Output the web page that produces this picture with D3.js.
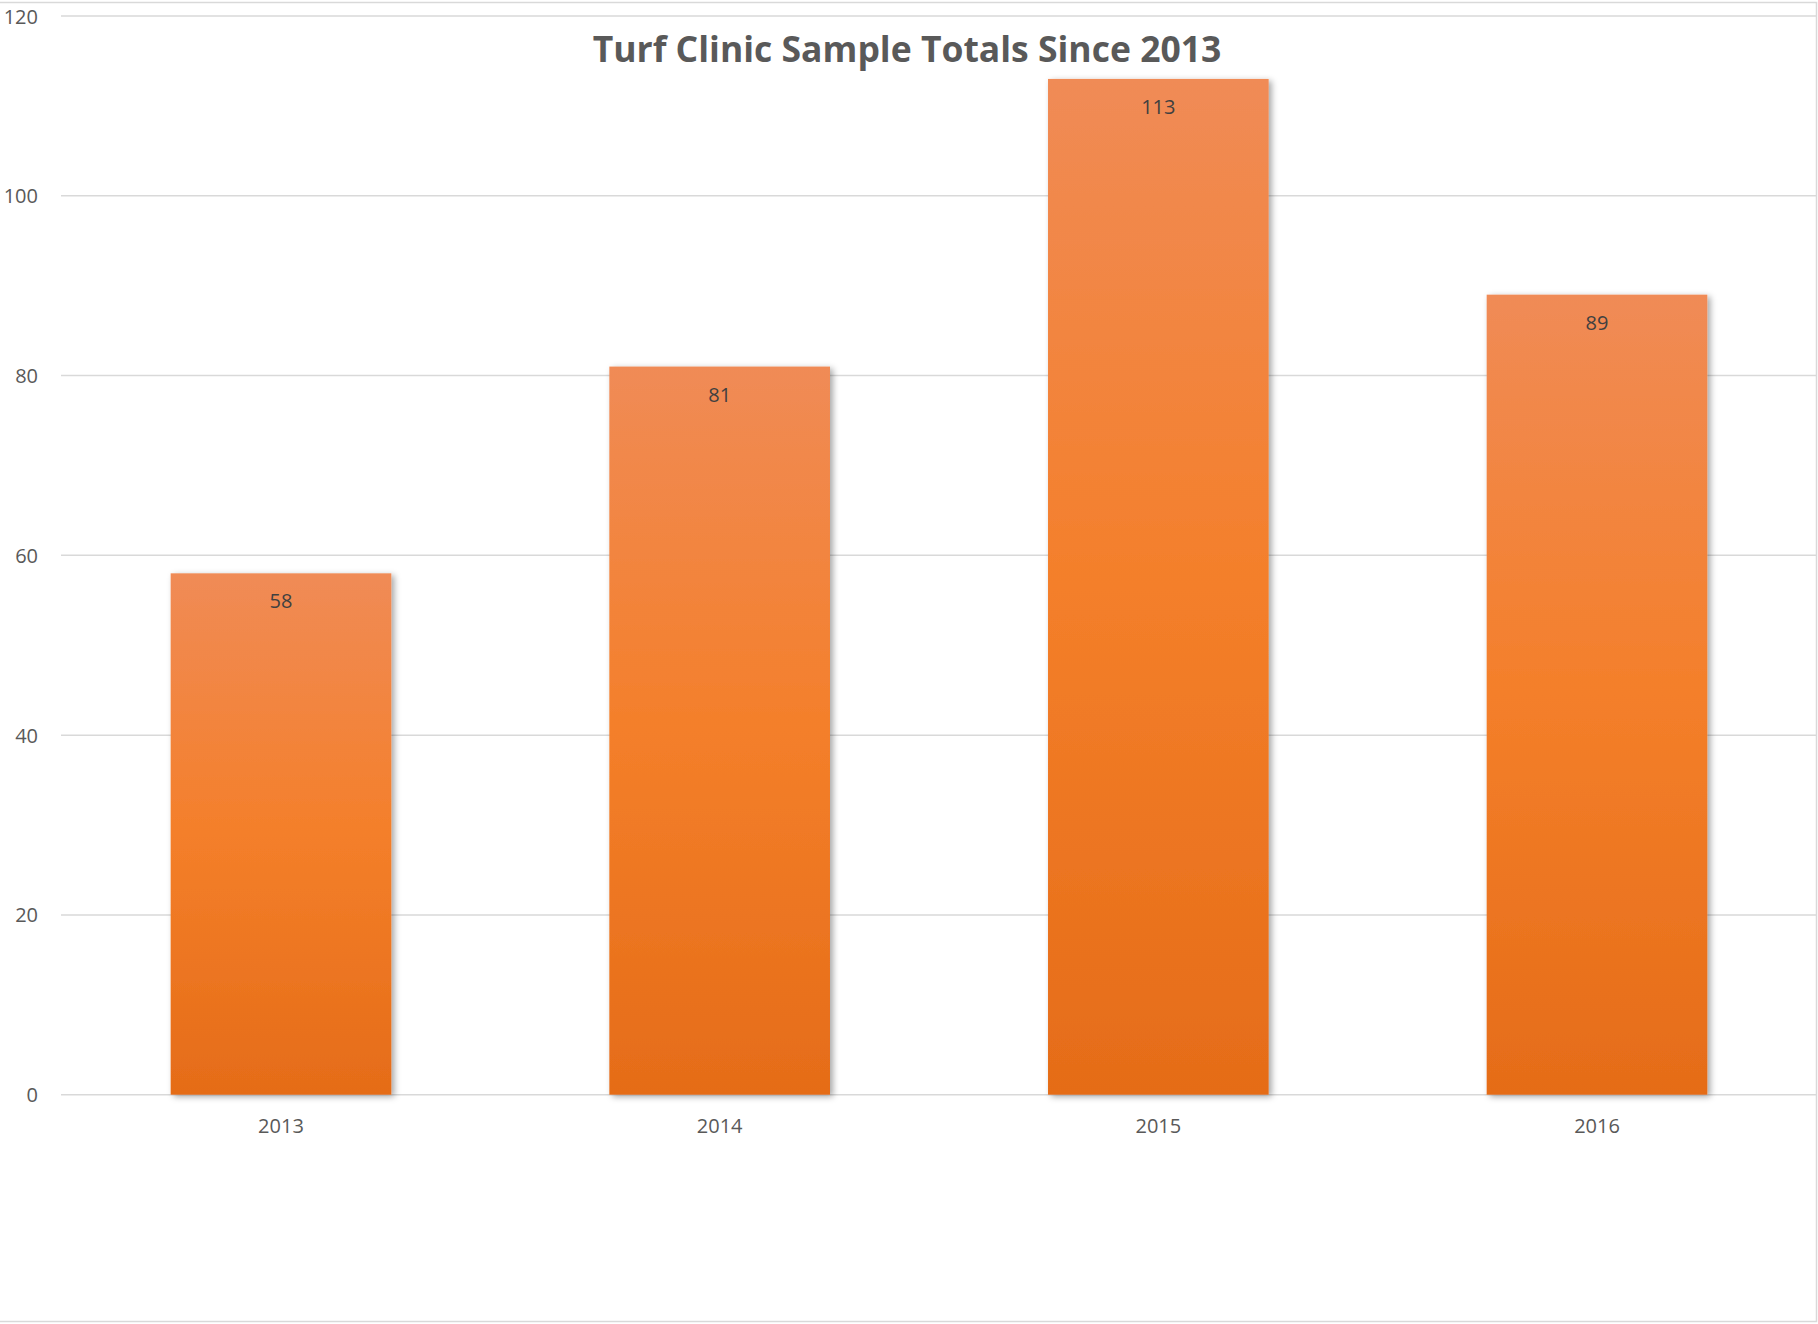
<!DOCTYPE html>
<html><head><meta charset="utf-8">
<script src="https://cdn.jsdelivr.net/npm/d3@7"></script>
<style>html,body{margin:0;padding:0;background:#fff;}svg{display:block;}</style>
</head><body>
<script>
const categories = ["2013", "2014", "2015", "2016"];
const sampleTotals = [58, 81, 113, 89];
const yTicks = [0, 20, 40, 60, 80, 100, 120];
const chartTitle = "Turf Clinic Sample Totals Since 2013";

const W = 1818, H = 1324;
const svg = d3.select("body").append("svg").attr("width", W).attr("height", H);

const defs = svg.append("defs");
const grad = defs.append("linearGradient").attr("id", "barGrad")
  .attr("x1", 0).attr("y1", 0).attr("x2", 0).attr("y2", 1);
grad.append("stop").attr("offset", "0%").attr("stop-color", "#F08B56");
grad.append("stop").attr("offset", "50%").attr("stop-color", "#F47F2A");
grad.append("stop").attr("offset", "100%").attr("stop-color", "#E56C18");
const f = defs.append("filter").attr("id", "shadow").attr("x", "-10%").attr("y", "-10%").attr("width", "125%").attr("height", "125%");
f.append("feDropShadow").attr("dx", 3).attr("dy", 2).attr("stdDeviation", 3).attr("flood-color", "#000").attr("flood-opacity", 0.35);

// outer frame (top, right, bottom)
svg.append("path").attr("d", "M0,2.5H1816.5V1321.5H0")
  .attr("fill", "none").attr("stroke", "#d9d9d9").attr("stroke-width", 1.5);

const x = d3.scaleBand().domain(categories).range([61, 1817]).paddingInner(0.497).paddingOuter(0.25);
const y = d3.scaleLinear().domain([0, 120]).range([1094.7, 16]);

// gridlines
const grid = svg.append("g").attr("class", "grid");
grid.selectAll("line").data(yTicks).join("line")
  .attr("x1", 61).attr("x2", 1817)
  .attr("y1", d => y(d)).attr("y2", d => y(d))
  .attr("stroke", "#d9d9d9").attr("stroke-width", 1.5);

// y axis labels
const yAxis = d3.axisLeft(y).tickValues(yTicks).tickSize(0).tickPadding(0);
const gy = svg.append("g").attr("transform", "translate(38,0)").call(yAxis);
gy.select(".domain").remove();
gy.selectAll("text").attr("font-family", "Open Sans, sans-serif").attr("font-size", 20)
  .attr("fill", "#595959").attr("dy", "0.35em");

// bars
svg.append("g").selectAll("rect").data(categories).join("rect")
  .attr("x", d => x(d)).attr("width", x.bandwidth())
  .attr("y", (d, i) => y(sampleTotals[i]))
  .attr("height", (d, i) => y(0) - y(sampleTotals[i]))
  .attr("fill", "url(#barGrad)").attr("filter", "url(#shadow)");

// data labels
svg.append("g").selectAll("text").data(categories).join("text")
  .attr("x", d => x(d) + x.bandwidth() / 2)
  .attr("y", (d, i) => y(sampleTotals[i]) + 28)
  .attr("dy", "0.35em").attr("text-anchor", "middle")
  .attr("font-family", "Open Sans, sans-serif").attr("font-size", 20)
  .attr("fill", "#404040").text((d, i) => sampleTotals[i]);

// x axis
const xAxis = d3.axisBottom(x).tickSize(0).tickPadding(0);
const gx = svg.append("g").attr("transform", "translate(0,1125.5)").call(xAxis);
gx.select(".domain").remove();
gx.selectAll("text").attr("font-family", "Open Sans, sans-serif").attr("font-size", 20)
  .attr("fill", "#595959").attr("dy", "0.35em");

// title
svg.append("text").attr("x", 907).attr("y", 50).attr("dy", "0.35em")
  .attr("text-anchor", "middle").attr("font-family", "Open Sans, sans-serif")
  .attr("font-weight", "bold").attr("font-size", 35.5).attr("fill", "#595959")
  .text(chartTitle);
</script>
</body></html>
